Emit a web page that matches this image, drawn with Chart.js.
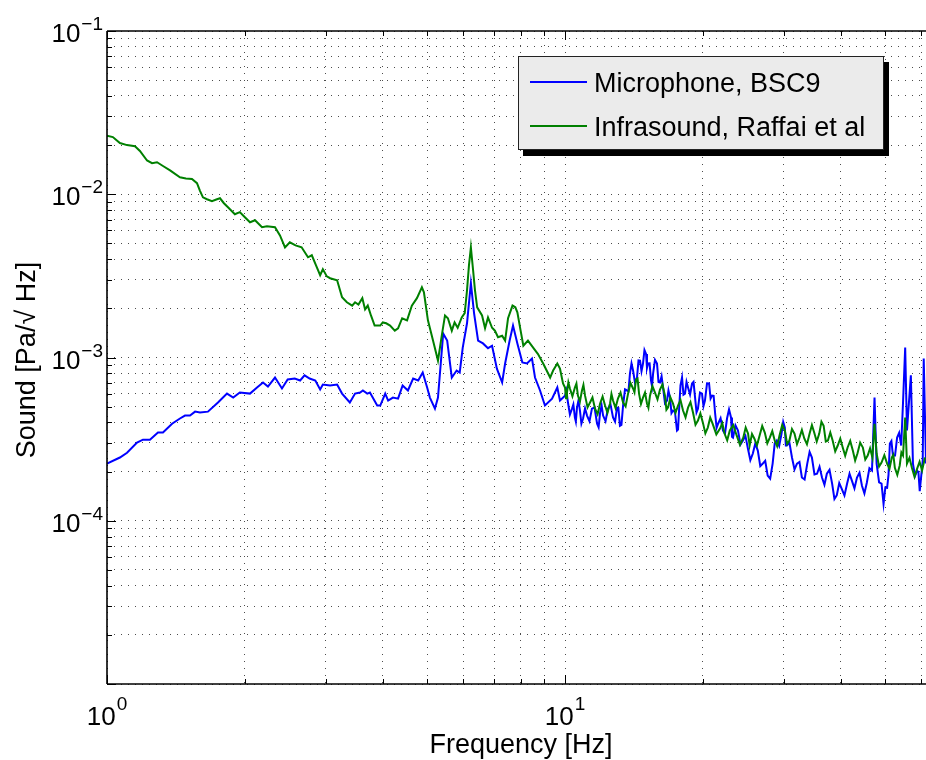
<!DOCTYPE html>
<html>
<head>
<meta charset="utf-8">
<script src="https://cdn.jsdelivr.net/npm/chart.js@4/dist/chart.umd.min.js"></script>
<style>
html,body{margin:0;padding:0;background:#fff;}
#wrap{width:926px;height:760px;position:relative;}
</style>
</head>
<body>
<div id="wrap"><canvas id="c"></canvas></div>
<script>
// ---------- data ----------
const seriesNames = ['Microphone, BSC9', 'Infrasound, Raffai et al'];

// Microphone, BSC9 : main trace readings
const micFreq = [
 1.000,1.067,1.106,1.163,1.198,1.241,1.292,1.325,1.387,1.443,
 1.480,1.518,1.557,1.596,1.661,1.747,1.828,1.886,1.950,2.052,
 2.126,2.191,2.246,2.327,2.41,2.48,2.57,2.64,2.70,2.77,
 2.85,2.92,2.96,3.07,3.18,3.26,3.39,3.48,3.57,3.62,
 3.70,3.75,3.89,3.95,4.05,4.11,4.21,4.32,4.42,4.54,
 4.66,4.78,4.89,5.00,5.07,5.20,5.28,5.42,5.53,5.66,
 5.80,5.89,5.98,6.11,6.23,6.33,6.46,6.62,6.79,6.93,
 7.10,7.29,7.40,7.57,7.70,7.87,8.07,8.26,8.47,8.60,
 8.82,9.04,9.37,9.62,9.75,10.0,10.15,10.36,10.51,10.62,
 10.78,10.95,11.17,11.45,11.75,11.93,12.11,12.41,12.73,12.99,
 13.18,13.39,13.66,13.86,14.08,14.36,14.58,14.80,15.03,15.18,
 15.41,15.57,15.88,16.12,16.37,16.70,16.95,17.21,17.56,17.74,
 18.01,18.28,18.56,18.94,19.23,19.51,19.91,20.21,20.63,20.95,
 21.27,21.59,22.13,22.58,23.04,23.27,23.86,24.46,25.08,25.71,
 26.36,27.03,27.7,28.4,29.0,29.7,30.2,30.5,31.3,32.1,
 32.9,33.8,34.6,35.5,36.4,37.3,38.3,39.2,40.2,41.3,
 42.3,43.4,44.5,45.6,46.8,47.4,47.9,49.1,49.6,50.5,
 51.2,52.0,53.1,54.2,54.7,55.3,55.8,56.9,57.5,58.7,
 59.5,60.4,60.7,61.4
];
const micVal = [
 2.24e-4,2.44e-4,2.61e-4,3.01e-4,3.14e-4,3.14e-4,3.47e-4,3.47e-4,3.93e-4,4.23e-4,
 4.41e-4,4.41e-4,4.66e-4,4.60e-4,4.66e-4,5.30e-4,6.01e-4,5.68e-4,6.10e-4,6.01e-4,
 6.55e-4,7.03e-4,6.64e-4,7.54e-4,6.46e-4,7.33e-4,7.43e-4,7.23e-4,7.77e-4,7.43e-4,
 7.23e-4,6.37e-4,6.83e-4,6.74e-4,6.83e-4,6.01e-4,5.30e-4,6.01e-4,6.10e-4,6.28e-4,
 6.01e-4,6.10e-4,5.08e-4,5.08e-4,6.01e-4,5.45e-4,5.68e-4,5.60e-4,6.74e-4,6.28e-4,
 7.43e-4,7.23e-4,8.09e-4,6.55e-4,5.68e-4,4.86e-4,5.68e-4,1.40e-3,1.27e-3,7.54e-4,
 8.32e-4,8.09e-4,1.15e-3,1.62e-3,2.85e-3,1.87e-3,1.27e-3,1.22e-3,1.14e-3,1.18e-3,
 8.55e-4,7.03e-4,9.19e-4,1.27e-3,1.57e-3,1.22e-3,9.32e-4,9.19e-4,9.86e-4,7.54e-4,
 6.28e-4,5.08e-4,5.60e-4,6.55e-4,5.45e-4,5.84e-4,5.30e-4,4.86e-4,4.29e-4,4.93e-4,
 4.73e-4,4.23e-4,4.41e-4,4.86e-4,3.93e-4,4.60e-4,4.41e-4,4.86e-4,4.29e-4,4.93e-4,
 3.82e-4,5.08e-4,6.28e-4,7.97e-4,8.32e-4,7.54e-4,9.58e-4,9.19e-4,1.05e-3,9.19e-4,
 7.23e-4,7.97e-4,9.19e-4,7.03e-4,6.55e-4,5.45e-4,5.68e-4,4.73e-4,3.57e-4,4.73e-4,
 7.54e-4,6.01e-4,6.55e-4,6.93e-4,5.68e-4,4.86e-4,6.01e-4,5.45e-4,6.93e-4,5.84e-4,
 4.54e-4,3.93e-4,3.57e-4,4.23e-4,4.29e-4,3.23e-4,3.57e-4,3.10e-4,2.77e-4,2.58e-4,
 2.69e-4,2.24e-4,1.89e-4,2.24e-4,3.10e-4,3.42e-4,3.72e-4,2.89e-4,2.44e-4,2.24e-4,
 1.84e-4,2.24e-4,2.44e-4,1.94e-4,1.84e-4,1.94e-4,1.69e-4,1.43e-4,1.57e-4,1.69e-4,
 1.76e-4,1.84e-4,1.64e-4,1.71e-4,2.03e-4,5.68e-4,2.24e-4,1.69e-4,1.27e-4,1.59e-4,
 2.97e-4,2.51e-4,3.23e-4,2.89e-4,5.30e-4,1.15e-3,3.57e-4,7.77e-4,2.24e-4,2.03e-4,
 1.52e-4,2.34e-4,9.86e-4,2.24e-4
];
// Microphone, BSC9 : extra readings of the noisy band above 10 Hz (other edge of the band)
const micFreqNoise = [
 10.07,10.25,10.43,10.56,10.70,10.86,11.06,11.31,11.60,11.84,
 12.02,12.26,12.57,12.86,13.08,13.28,13.52,13.76,13.97,14.22,
 14.47,14.69,14.91,15.10,15.30,15.49,15.72,16.00,16.25,16.53,
 16.82,17.08,17.38,17.65,17.87,18.14,18.42,18.75,19.08,19.37,
 19.71,20.06,20.42,20.79,21.11,21.43,21.86,22.35,22.81,23.15,
 23.56,24.16,24.77,25.39,26.03,26.69,27.36,28.05,28.7,29.35,
 29.95,30.35,30.9,31.7,32.5,33.35,34.2,35.05,35.95,36.85,
 37.8,38.75,39.7,40.75,41.8,42.85,43.95,45.05,46.2,48.5,
 50.05,50.85,51.6,52.55,53.65,58.1,59.1
];
const micValNoise = [
 6.29e-4,4.47e-4,5.16e-4,4.05e-4,5.46e-4,3.94e-4,4.88e-4,4.07e-4,4.94e-4,3.74e-4,
 5.09e-4,4.07e-4,5.16e-4,4.05e-4,4.90e-4,3.87e-4,6.38e-4,6.22e-4,9.20e-4,6.97e-4,
 9.61e-4,8.25e-4,1.11e-3,8.64e-4,9.21e-4,6.68e-4,9.67e-4,7.08e-4,7.67e-4,5.25e-4,
 6.28e-4,4.56e-4,4.64e-4,3.62e-4,6.75e-4,5.92e-4,7.09e-4,5.93e-4,7.09e-4,4.62e-4,
 6.10e-4,5.03e-4,6.95e-4,5.60e-4,5.82e-4,3.71e-4,4.24e-4,3.42e-4,4.81e-4,3.27e-4,
 3.84e-4,2.93e-4,3.31e-4,2.35e-4,2.97e-4,2.16e-4,2.33e-4,1.81e-4,2.98e-4,2.87e-4,
 4.03e-4,2.89e-4,3.01e-4,2.06e-4,2.29e-4,1.79e-4,2.64e-4,1.92e-4,2.14e-4,1.66e-4,
 2.05e-4,1.36e-4,1.70e-4,1.43e-4,1.94e-4,1.58e-4,1.97e-4,1.47e-4,2.10e-4,1.72e-4,
 1.60e-4,1.91e-4,3.08e-4,2.51e-4,3.46e-4,1.88e-4,1.99e-4
];

// Infrasound, Raffai et al : main trace readings
const infraFreq = [
 1.000,1.030,1.067,1.106,1.151,1.180,1.223,1.254,1.286,1.325,
 1.373,1.443,1.487,1.533,1.572,1.596,1.620,1.653,1.695,1.738,
 1.765,1.800,1.837,1.902,1.950,2.000,2.052,2.105,2.148,2.180,
 2.235,2.327,2.386,2.447,2.507,2.58,2.66,2.747,2.80,2.86,
 2.92,2.96,3.02,3.07,3.18,3.26,3.34,3.43,3.48,3.54,
 3.61,3.66,3.71,3.77,3.84,3.95,4.00,4.07,4.15,4.25,
 4.32,4.41,4.52,4.63,4.75,4.87,4.92,5.02,5.15,5.28,
 5.39,5.47,5.55,5.66,5.74,5.83,5.95,6.04,6.11,6.17,
 6.23,6.30,6.36,6.43,6.59,6.69,6.79,6.93,7.03,7.14,
 7.29,7.40,7.51,7.68,7.79,7.87,8.00,8.11,8.30,8.52,
 8.73,8.96,9.28,9.42,9.62,9.75,9.90,10.0,10.10,10.25,
 10.51,10.67,10.89,11.06,11.34,11.63,11.93,12.23,12.54,12.73,
 13.05,13.39,13.73,14.08,14.29,14.51,14.80,15.10,15.33,15.72,
 16.12,16.53,16.78,17.21,17.65,18.10,18.56,19.03,19.51,20.0,
 20.5,21.0,21.8,22.3,22.9,23.7,24.5,25.1,25.3,25.9,
 26.6,27.3,28.0,28.7,29.4,30.2,30.9,31.7,32.5,33.3,
 34.2,35.0,35.9,36.7,37.5,38.4,39.4,40.4,41.4,42.5,
 43.5,44.7,45.8,46.9,47.4,47.9,49.1,50.5,51.7,52.5,
 53.8,54.7,55.3,55.8,57.2,58.7,60.2,61.1
];
const infraVal = [
 2.28e-2,2.24e-2,2.06e-2,2.00e-2,1.97e-2,1.84e-2,1.61e-2,1.55e-2,1.57e-2,1.49e-2,
 1.40e-2,1.27e-2,1.25e-2,1.24e-2,1.17e-2,1.05e-2,9.58e-3,9.32e-3,9.06e-3,9.32e-3,
 9.45e-3,8.81e-3,8.32e-3,7.54e-3,7.77e-3,7.23e-3,6.74e-3,6.93e-3,6.55e-3,6.28e-3,
 6.37e-3,6.28e-3,5.60e-3,4.73e-3,5.08e-3,4.86e-3,4.73e-3,4.11e-3,4.23e-3,3.67e-3,
 3.19e-3,3.47e-3,3.14e-3,3.06e-3,2.97e-3,2.34e-3,2.18e-3,2.08e-3,2.18e-3,2.11e-3,
 2.31e-3,1.97e-3,2.08e-3,1.81e-3,1.57e-3,1.57e-3,1.64e-3,1.62e-3,1.57e-3,1.46e-3,
 1.51e-3,1.74e-3,1.69e-3,2.08e-3,2.31e-3,2.69e-3,2.51e-3,1.69e-3,1.27e-3,9.58e-4,
 1.40e-3,1.81e-3,1.74e-3,1.46e-3,1.64e-3,1.52e-3,1.76e-3,1.87e-3,2.58e-3,3.67e-3,
 4.73e-3,3.42e-3,2.58e-3,2.03e-3,1.81e-3,1.51e-3,1.76e-3,1.52e-3,1.46e-3,1.33e-3,
 1.36e-3,1.27e-3,1.74e-3,2.08e-3,2.03e-3,1.89e-3,1.46e-3,1.18e-3,1.27e-3,1.15e-3,
 1.05e-3,9.19e-4,7.54e-4,8.32e-4,9.19e-4,8.55e-4,6.93e-4,6.55e-4,6.10e-4,6.46e-4,
 6.55e-4,5.84e-4,6.28e-4,5.84e-4,5.30e-4,4.86e-4,5.23e-4,5.08e-4,5.23e-4,5.45e-4,
 5.60e-4,5.30e-4,6.01e-4,6.46e-4,7.33e-4,6.01e-4,5.68e-4,5.23e-4,5.84e-4,6.10e-4,
 6.37e-4,5.84e-4,4.93e-4,5.23e-4,5.08e-4,4.73e-4,4.93e-4,4.60e-4,4.11e-4,3.99e-4,
 3.72e-4,3.93e-4,3.67e-4,3.42e-4,3.57e-4,3.33e-4,3.23e-4,3.42e-4,2.89e-4,3.19e-4,
 3.33e-4,3.47e-4,3.23e-4,3.10e-4,3.33e-4,3.57e-4,3.10e-4,3.42e-4,3.23e-4,3.19e-4,
 3.42e-4,3.47e-4,3.42e-4,3.82e-4,3.10e-4,3.10e-4,2.89e-4,2.81e-4,2.81e-4,2.69e-4,
 2.58e-4,2.81e-4,2.51e-4,2.44e-4,3.93e-4,2.58e-4,2.27e-4,2.24e-4,2.44e-4,2.11e-4,
 2.18e-4,2.51e-4,4.29e-4,2.24e-4,2.11e-4,2.08e-4,2.03e-4,2.44e-4
];
// Infrasound, Raffai et al : extra readings of the noisy band above 10 Hz
const infraFreqNoise = [
 10.05,10.17,10.38,10.59,10.78,10.97,11.20,11.48,11.78,12.08,
 12.38,12.63,12.89,13.22,13.56,13.90,14.18,14.40,14.65,14.95,
 15.21,15.52,15.92,16.32,16.65,16.99,17.43,17.87,18.33,18.79,
 19.27,19.75,20.25,20.75,21.4,22.05,22.6,23.3,24.1,24.8,
 25.6,26.25,26.95,27.65,28.35,29.05,29.8,30.55,31.3,32.1,
 32.9,33.75,34.6,35.45,36.3,37.1,37.95,38.9,39.9,40.9,
 41.95,43.0,44.1,45.25,46.35,48.5,49.8,51.1,52.1,53.15,
 54.25,56.5,57.95,59.45
];
const infraValNoise = [
 5.63e-4,7.03e-4,5.79e-4,6.92e-4,5.39e-4,6.79e-4,4.95e-4,5.69e-4,4.49e-4,5.77e-4,
 4.58e-4,5.98e-4,4.91e-4,6.10e-4,5.02e-4,6.98e-4,6.12e-4,7.44e-4,5.20e-4,6.10e-4,
 4.92e-4,6.69e-4,5.54e-4,6.83e-4,4.78e-4,5.69e-4,4.58e-4,5.49e-4,4.30e-4,5.33e-4,
 3.87e-4,4.54e-4,3.43e-4,4.28e-4,3.38e-4,3.96e-4,3.11e-4,3.86e-4,2.92e-4,3.72e-4,
 3.40e-4,2.90e-4,3.81e-4,2.98e-4,3.54e-4,2.86e-4,3.86e-4,2.96e-4,3.65e-4,2.95e-4,
 3.60e-4,2.94e-4,3.85e-4,3.06e-4,4.04e-4,3.06e-4,3.47e-4,2.66e-4,3.19e-4,2.50e-4,
 3.08e-4,2.34e-4,3.01e-4,2.37e-4,2.78e-4,2.15e-4,2.52e-4,2.08e-4,2.54e-4,1.91e-4,
 2.62e-4,2.43e-4,1.86e-4,2.30e-4
];

// axis ticks and labels
const xTickValues = [1,2,3,4,5,6,7,8,9,10,20,30,40,50,60];
const yTickValues = [
 1e-5,2e-5,3e-5,4e-5,5e-5,6e-5,7e-5,8e-5,9e-5,
 1e-4,2e-4,3e-4,4e-4,5e-4,6e-4,7e-4,8e-4,9e-4,
 1e-3,2e-3,3e-3,4e-3,5e-3,6e-3,7e-3,8e-3,9e-3,
 1e-2,2e-2,3e-2,4e-2,5e-2,6e-2,7e-2,8e-2,9e-2,
 1e-1
];
const xLabelValues = [1, 10];
const xLabelExps = ['0', '1'];
const yLabelValues = [1e-1, 1e-2, 1e-3, 1e-4];
const yLabelExps = ['\u22121', '\u22122', '\u22123', '\u22124'];
const xTitle = 'Frequency [Hz]';
const yTitle = 'Sound [Pa/\u221A Hz]';

const X_MIN = 1, X_MAX = 61.4, Y_MIN = 1e-5, Y_MAX = 1e-1;
const FONT = "'Liberation Sans', Arial, Helvetica, sans-serif";

// ---------- chart ----------
// combine the trace readings with the band-edge readings, ordered by frequency
function toPoints(fx, fy, gx, gy) {
  const pts = fx.map((f, i) => ({ x: f, y: fy[i] }));
  gx.forEach((f, i) => pts.push({ x: f, y: gy[i] }));
  return pts.sort((a, b) => a.x - b.x);
}

function isDecade(v) {
  const l = Math.log10(v);
  return Math.abs(l - Math.round(l)) < 1e-6;
}

const decor = {
  id: 'decor',
  afterDraw(chart) {
    const { ctx, chartArea: a, scales: { x, y } } = chart;
    ctx.save();
    const line = (x1, y1, x2, y2) => { ctx.beginPath(); ctx.moveTo(x1, y1); ctx.lineTo(x2, y2); ctx.stroke(); };

    // inner tick marks
    ctx.strokeStyle = '#000';
    ctx.lineWidth = 1;
    xTickValues.forEach(v => {
      const px = Math.round(x.getPixelForValue(v)) + 0.5;
      const len = isDecade(v) ? 9 : 5;
      line(px, a.bottom, px, a.bottom - len);
      line(px, a.top, px, a.top + len);
    });
    yTickValues.forEach(v => {
      const py = Math.round(y.getPixelForValue(v)) + 0.5;
      const len = isDecade(v) ? 9 : 5;
      line(a.left, py, a.left + len, py);
    });

    // axes frame (left, bottom, top)
    ctx.lineWidth = 1.6;
    line(a.left, a.top, a.left, a.bottom);
    line(a.left, a.bottom, a.right, a.bottom);
    line(a.left, a.top, a.right, a.top);

    // tick labels 10^n
    ctx.fillStyle = '#000';
    ctx.textBaseline = 'alphabetic';
    yLabelValues.forEach((v, i) => {
      const py = y.getPixelForValue(v);
      ctx.font = `19px ${FONT}`;
      const ew = ctx.measureText(yLabelExps[i]).width;
      const right = a.left - 4;
      ctx.textAlign = 'left';
      ctx.fillText(yLabelExps[i], right - ew, py - 1);
      ctx.font = `26px ${FONT}`;
      ctx.textAlign = 'right';
      ctx.fillText('10', right - ew - 1, py + 11);
    });
    xLabelValues.forEach((v, i) => {
      const px = x.getPixelForValue(v);
      ctx.font = `26px ${FONT}`;
      const bw = ctx.measureText('10').width;
      ctx.font = `19px ${FONT}`;
      const ew = ctx.measureText(xLabelExps[i]).width;
      const start = px - (bw + 1 + ew) / 2;
      ctx.textAlign = 'left';
      ctx.fillText(xLabelExps[i], start + bw + 1, a.bottom + 26);
      ctx.font = `26px ${FONT}`;
      ctx.fillText('10', start, a.bottom + 41);
    });

    // axis titles
    ctx.font = `27px ${FONT}`;
    ctx.textAlign = 'center';
    ctx.fillText(xTitle, 521, a.bottom + 69);
    ctx.save();
    ctx.translate(35, 360);
    ctx.rotate(-Math.PI / 2);
    ctx.fillText(yTitle, 0, 0);
    ctx.restore();

    // legend with drop shadow
    const lx = 518, ly = 56, lw = 366, lh = 94;
    ctx.fillStyle = '#000';
    ctx.fillRect(lx + 5, ly + 6, lw, lh);
    ctx.fillStyle = '#ebebeb';
    ctx.fillRect(lx, ly, lw, lh);
    ctx.strokeStyle = '#222';
    ctx.lineWidth = 1;
    ctx.strokeRect(lx + 0.5, ly + 0.5, lw - 1, lh - 1);
    ctx.font = `27px ${FONT}`;
    ctx.textAlign = 'left';
    chart.data.datasets.forEach((ds, i) => {
      const yy = ly + 26 + i * 44;
      ctx.strokeStyle = ds.borderColor;
      ctx.lineWidth = 2;
      line(lx + 12, yy, lx + 69, yy);
      ctx.fillStyle = '#000';
      ctx.fillText(ds.label, lx + 76, yy + 10);
    });
    ctx.restore();
  }
};

const gridOpts = { drawTicks: false, color: 'rgba(0,0,0,0.7)', lineWidth: 1 };
const borderOpts = { display: false, dash: [1, 6] };

new Chart(document.getElementById('c'), {
  type: 'line',
  data: {
    datasets: [
      { label: seriesNames[0], data: toPoints(micFreq, micVal, micFreqNoise, micValNoise),
        borderColor: '#0000ff', borderWidth: 2, pointRadius: 0, tension: 0, fill: false, order: 1 },
      { label: seriesNames[1], data: toPoints(infraFreq, infraVal, infraFreqNoise, infraValNoise),
        borderColor: '#008000', borderWidth: 2, pointRadius: 0, tension: 0, fill: false, order: 0 }
    ]
  },
  options: {
    responsive: true,
    maintainAspectRatio: false,
    animation: false,
    layout: { padding: { left: 107, top: 31, right: 0, bottom: 76 } },
    plugins: { legend: { display: false }, tooltip: { enabled: false } },
    scales: {
      x: {
        type: 'logarithmic', min: X_MIN, max: X_MAX,
        afterBuildTicks: s => { s.ticks = xTickValues.map(v => ({ value: v })); },
        ticks: { display: false },
        grid: gridOpts, border: borderOpts
      },
      y: {
        type: 'logarithmic', min: Y_MIN, max: Y_MAX,
        afterBuildTicks: s => { s.ticks = yTickValues.map(v => ({ value: v })); },
        ticks: { display: false },
        grid: gridOpts, border: borderOpts
      }
    }
  },
  plugins: [decor]
});
</script>
</body>
</html>
